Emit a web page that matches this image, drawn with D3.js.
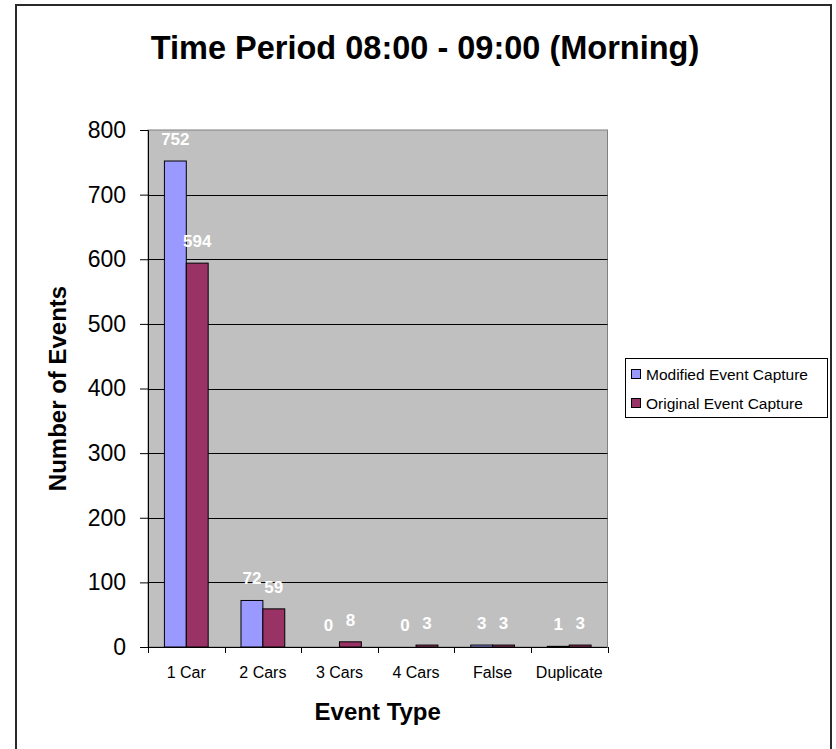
<!DOCTYPE html>
<html>
<head>
<meta charset="utf-8">
<script src="https://cdn.jsdelivr.net/npm/d3@7"></script>
<style>
  html, body { margin: 0; padding: 0; background: #fff; }
  svg { display: block; font-family: Arial, "Liberation Sans", sans-serif; }
</style>
</head>
<body>
<svg id="chart" width="836" height="749"></svg>
<script>
// Event counts per event type, 08:00 - 09:00
const categories = ["1 Car", "2 Cars", "3 Cars", "4 Cars", "False", "Duplicate"];
const seriesNames = ["Modified Event Capture", "Original Event Capture"];
const modifiedValues = [752, 72, 0, 0, 3, 1];
const originalValues = [594, 59, 8, 3, 3, 3];
const yTicks = [0, 100, 200, 300, 400, 500, 600, 700, 800];
const seriesColors = ["#9999FF", "#993366"];

const svg = d3.select("#chart");

// Chart frame
svg.append("rect")
  .attr("x", 16).attr("y", 5)
  .attr("width", 815).attr("height", 780)
  .attr("fill", "#fff")
  .attr("stroke", "#2a2a2a")
  .attr("stroke-width", 2);

// Title
svg.append("text")
  .attr("x", 425).attr("y", 59)
  .attr("text-anchor", "middle")
  .attr("font-weight", "bold")
  .attr("font-size", 32.5)
  .text("Time Period 08:00 - 09:00 (Morning)");

const plot = { left: 148, right: 607.5, top: 130, bottom: 647 };

const x = d3.scaleBand()
  .domain(categories)
  .range([plot.left, plot.right])
  .paddingInner(0).paddingOuter(0);

const y = d3.scaleLinear()
  .domain([0, 800])
  .range([plot.bottom, plot.top]);

// Plot area background
svg.append("rect")
  .attr("x", plot.left).attr("y", plot.top)
  .attr("width", plot.right - plot.left)
  .attr("height", plot.bottom - plot.top)
  .attr("fill", "#C0C0C0")
  .attr("stroke", "#808080")
  .attr("stroke-width", 1);

// Horizontal gridlines
svg.append("g")
  .selectAll("line")
  .data(yTicks.filter(d => d > 0 && d < 800))
  .join("line")
  .attr("x1", plot.left).attr("x2", plot.right)
  .attr("y1", d => Math.round(y(d)) + 0.5)
  .attr("y2", d => Math.round(y(d)) + 0.5)
  .attr("stroke", "#000")
  .attr("stroke-width", 1);

// Y axis
const yAxis = svg.append("g")
  .attr("transform", `translate(${plot.left},0)`)
  .call(d3.axisLeft(y).tickValues(yTicks).tickSize(8).tickPadding(14).tickFormat(d3.format("d")));
yAxis.select(".domain").attr("stroke", "#000");
yAxis.selectAll(".tick line").attr("stroke", "#000");
yAxis.selectAll(".tick text")
  .attr("font-size", 23)
  .attr("font-family", "Arial, 'Liberation Sans', sans-serif")
  .attr("fill", "#000");

// Bars
const barW = x.bandwidth() / 3.5;
const series = [modifiedValues, originalValues];
series.forEach((vals, s) => {
  const g = svg.append("g");
  g.selectAll("rect")
    .data(vals)
    .join("rect")
    .attr("x", (d, i) => x(categories[i]) + barW * 0.75 + s * barW)
    .attr("y", d => y(d))
    .attr("width", barW)
    .attr("height", d => y(0) - y(d))
    .attr("fill", seriesColors[s])
    .attr("stroke", d => d > 0 ? "#000" : "none")
    .attr("stroke-width", 1);
  // Value labels
  g.selectAll("text")
    .data(vals)
    .join("text")
    .attr("x", (d, i) => x(categories[i]) + barW * 0.75 + s * barW + barW / 2)
    .attr("y", d => y(d) - 16)
    .attr("text-anchor", "middle")
    .attr("font-weight", "bold")
    .attr("font-size", 17)
    .attr("fill", "#fff")
    .text(d => d);
});

// X axis line with ticks on category boundaries
svg.append("line")
  .attr("x1", plot.left).attr("x2", plot.right)
  .attr("y1", plot.bottom + 0.5).attr("y2", plot.bottom + 0.5)
  .attr("stroke", "#000");
const boundaries = categories.map(c => x(c)).concat([plot.right]);
svg.append("g")
  .selectAll("line")
  .data(boundaries)
  .join("line")
  .attr("x1", d => Math.round(d) + 0.5).attr("x2", d => Math.round(d) + 0.5)
  .attr("y1", plot.bottom).attr("y2", plot.bottom + 6)
  .attr("stroke", "#000");
svg.append("g")
  .selectAll("text")
  .data(categories)
  .join("text")
  .attr("x", d => x(d) + x.bandwidth() / 2)
  .attr("y", 678)
  .attr("text-anchor", "middle")
  .attr("font-size", 16)
  .text(d => d);

// Axis titles
svg.append("text")
  .attr("x", (plot.left + plot.right) / 2)
  .attr("y", 720)
  .attr("text-anchor", "middle")
  .attr("font-weight", "bold")
  .attr("font-size", 24)
  .text("Event Type");

svg.append("text")
  .attr("transform", `translate(66,${(plot.top + plot.bottom) / 2}) rotate(-90)`)
  .attr("text-anchor", "middle")
  .attr("font-weight", "bold")
  .attr("font-size", 24)
  .text("Number of Events");

// Legend
const legend = svg.append("g");
legend.append("rect")
  .attr("x", 625.5).attr("y", 358.5)
  .attr("width", 202).attr("height", 59)
  .attr("fill", "#fff")
  .attr("stroke", "#000");
seriesNames.forEach((name, i) => {
  legend.append("rect")
    .attr("x", 631.5).attr("y", 369.5 + i * 29)
    .attr("width", 9).attr("height", 9)
    .attr("fill", seriesColors[i])
    .attr("stroke", "#000");
  legend.append("text")
    .attr("x", 646).attr("y", 380 + i * 29)
    .attr("font-size", 15.5)
    .text(name);
});
</script>
</body>
</html>
